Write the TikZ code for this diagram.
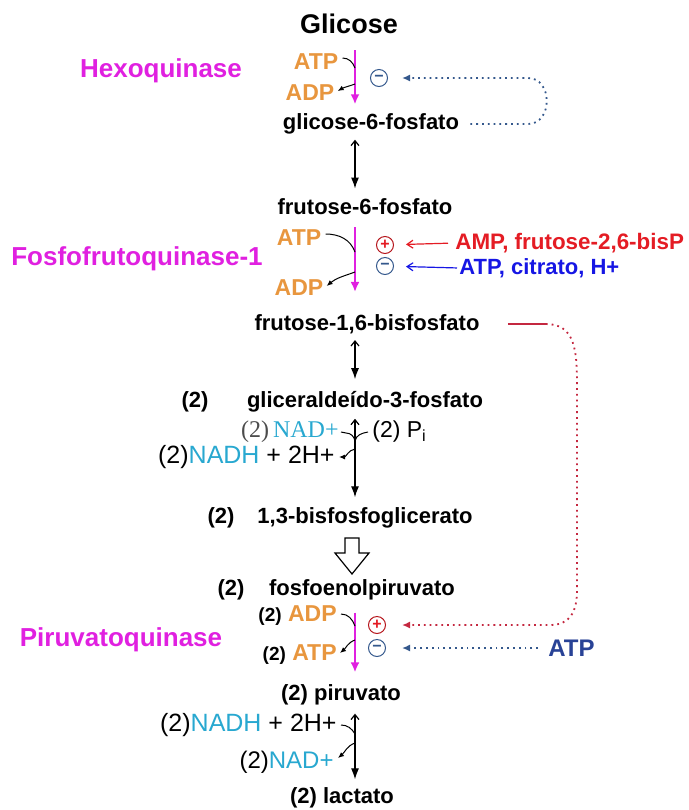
\documentclass[tikz,border=0pt]{standalone}
\usepackage{fontspec}
\setmainfont{Liberation Sans}
\newfontfamily\nadserif{Liberation Serif}
\usetikzlibrary{arrows.meta}
\definecolor{enzmag}{RGB}{224,32,224}
\definecolor{nucor}{RGB}{232,150,62}
\definecolor{actred}{RGB}{228,28,36}
\definecolor{inhblue}{RGB}{22,22,228}
\definecolor{navy}{RGB}{40,66,150}
\definecolor{nadteal}{RGB}{40,168,208}
\definecolor{dotred}{RGB}{196,40,64}
\definecolor{dotblue}{RGB}{52,88,140}
\tikzset{
  met/.style={inner sep=0pt, font=\bfseries\fontsize{11}{12}\selectfont},
  enz/.style={inner sep=0pt, text=enzmag, font=\bfseries\fontsize{13}{15}\selectfont},
  nuc/.style={inner sep=0pt, text=nucor, font=\bfseries\fontsize{11.5}{13}\selectfont},
  cof/.style={inner sep=0pt, font=\fontsize{12.5}{14}\selectfont},
  reg/.style={circle, draw, line width=.5pt, inner sep=0pt, minimum size=8.5pt, font=\bfseries\fontsize{8}{8}\selectfont},
  kin/.style={enzmag, line width=1.4pt, -{Latex[length=5pt,width=4.5pt]}},
  rev/.style={line width=.6pt, {Straight Barb[length=2.5pt,width=4pt]}-{Latex[length=5.5pt,width=4pt]}},
  side/.style={line width=.5pt},
  sidearr/.style={line width=.5pt, -{Latex[length=3pt,width=2.5pt]}},
  dots/.style={dotted, line width=.9pt, -{Latex[length=4pt,width=3.5pt]}},
}
\begin{document}
\begin{tikzpicture}[x=.5pt, y=-.5pt]
\useasboundingbox (0,0) rectangle (689,810);
\coordinate (axis) at (355,0);
% metabolitos
\node[inner sep=0pt, font=\bfseries\fontsize{13.5}{15}\selectfont] (glc) at (349,24) {Glicose};
\node[met] (g6p) at (371,124) {glicose-6-fosfato};
\node[met] (f6p) at (365,207) {frutose-6-fosfato};
\node[met] (f16) at (367,324) {frutose-1,6-bisfosfato};
\node[met] (two1) at (195,402) {(2)};
\node[met] (gap) at (365,402) {gliceralde\'ido-3-fosfato};
\node[met] (two2) at (221,518) {(2)};
\node[met] (bpg) at (365,518) {1,3-bisfosfoglicerato};
\node[met] (two3) at (231,590) {(2)};
\node[met] (pep) at (362,590) {fosfoenolpiruvato};
\node[met] (pyr) at (341,695) {(2) piruvato};
\node[met] (lac) at (342,798) {(2) lactato};
% enzimas
\node[enz] (hk) at (161,71) {Hexoquinase};
\node[enz] (pfk) at (137,259) {Fosfofrutoquinase-1};
\node[enz] (pk) at (121,640) {Piruvatoquinase};
% ATP / ADP
\node[nuc] (atpA) at (316,62) {ATP};
\node[nuc] (adpA) at (310,93) {ADP};
\node[nuc] (atpB) at (299,238) {ATP};
\node[nuc] (adpB) at (299,288) {ADP};
\node[nuc, anchor=east] (adpC) at (337,616) {\textcolor{black}{\fontsize{9.5}{11}\selectfont(2)} ADP};
\node[nuc, anchor=east] (atpC) at (337,655) {\textcolor{black}{\fontsize{9.5}{11}\selectfont(2)} ATP};
% NAD
\node[inner sep=0pt, anchor=east, font=\nadserif\fontsize{12}{13}\selectfont] (nadA) at (339,432) {\textcolor{black!70}{(2)}\,\textcolor{nadteal}{NAD+}};
\node[inner sep=0pt, anchor=west, font=\fontsize{11.5}{13}\selectfont] (pi) at (372,432) {(2) P\textsubscript{i}};
\node[cof, anchor=east] (nadhA) at (335,457) {(2)\textcolor{nadteal}{NADH} + 2H+};
\node[cof, anchor=east] (nadhB) at (337,725) {(2)\textcolor{nadteal}{NADH} + 2H+};
\node[inner sep=0pt, anchor=east, font=\fontsize{12}{13}\selectfont] (nadB) at (334,762) {(2)\textcolor{nadteal}{NAD+}};
% reguladores
\node[reg, draw=dotblue] (inhA) at (379,78) {\textcolor{dotblue}{\textminus}};
\node[reg, draw=actred!80!black] (actB) at (385,245) {\textcolor{actred}{+}};
\node[reg, draw=dotblue] (inhB) at (385,266) {\textcolor{dotblue}{\textminus}};
\node[reg, draw=actred!80!black] (actC) at (377,625) {\textcolor{actred}{+}};
\node[reg, draw=dotblue] (inhC) at (377,648) {\textcolor{dotblue}{\textminus}};
\node[inner sep=0pt, anchor=west, text=actred, font=\bfseries\fontsize{11.2}{13}\selectfont] (amp) at (455,243) {AMP, frutose-2,6-bisP};
\node[inner sep=0pt, anchor=west, text=inhblue, font=\bfseries\fontsize{11}{13}\selectfont] (cit) at (459,268) {ATP, citrato, H+};
\node[inner sep=0pt, anchor=west, text=navy, font=\bfseries\fontsize{12}{13}\selectfont] (atpI) at (548,648) {ATP};
% setas das quinases
\draw[kin] ([yshift=-8pt]glc.south -| axis) -- ([yshift=4.5pt]g6p.north -| axis);
\draw[kin] ([yshift=-6pt]f6p.south -| axis) -- ([yshift=11pt]f16.north -| axis);
\draw[kin] ([yshift=-6pt]pep.south -| axis) -- ([yshift=6pt]pyr.north -| axis);
% passos reversiveis
\draw[rev] ([yshift=-2.5pt]g6p.south -| axis) -- ([yshift=5pt]f6p.north -| axis);
\draw[rev] ([yshift=-3pt]f16.south -| axis) -- ([yshift=6pt]gap.north -| axis);
\draw[rev] ([yshift=-3pt]gap.south -| axis) -- ([yshift=5pt]bpg.north -| axis);
\draw[rev] ([yshift=-4pt]pyr.south -| axis) -- ([yshift=4pt]lac.north -| axis);
\draw[line width=.6pt, fill=white] (345,538) -- (359,538) -- (359,553) -- (369,553) -- (352,574) -- (335,553) -- (345,553) -- cycle;
% cofatores
\coordinate (j1) at (355,68);  \coordinate (j2) at (355,84);
\coordinate (j3) at (355,252); \coordinate (j4) at (355,272);
\coordinate (j5) at (355,626); \coordinate (j6) at (355,640);
\coordinate (j7) at (355,441); \coordinate (j8) at (355,449);
\coordinate (j9) at (355,734); \coordinate (j10) at (355,743);
\draw[side] ([shift={(2pt,2pt)}]atpA.east) to[out=0,in=110] (j1);
\draw[sidearr] (j2) to[out=200,in=30] ([shift={(1.5pt,1pt)}]adpA.east);
\draw[side] ([shift={(2pt,2pt)}]atpB.east) to[out=0,in=110] (j3);
\draw[sidearr] (j4) to[out=200,in=40] ([shift={(1.5pt,1pt)}]adpB.east);
\draw[side] ([shift={(2pt,1pt)}]adpC.east) to[out=0,in=110] (j5);
\draw[sidearr] (j6) to[out=200,in=40] ([shift={(1.5pt,1pt)}]atpC.east);
\draw[side] ([xshift=1pt]nadA.east) -- ++(5,1) to[out=0,in=100] (j7);
\draw[side] ([xshift=-2pt]pi.west) to[out=190,in=80] (j7);
\draw[sidearr] (j8) to[out=190,in=0] ([xshift=2pt]nadhA.east);
\draw[side] ([xshift=2pt]nadhB.east) to[out=0,in=120] (j9);
\draw[sidearr] (j10) to[out=200,in=40] ([shift={(2pt,2pt)}]nadB.east);
% regulacao
\draw[dots, dotblue, shorten >=7pt] ([xshift=5.5pt]g6p.east) -- (528,124) .. controls (553,124) and (553,78) .. (528,78) -- (inhA);
\draw[line width=.6pt, actred, -{Straight Barb[length=3pt,width=4pt]}, shorten <=3.5pt, shorten >=6pt] (amp.west) -- (actB);
\draw[line width=.6pt, inhblue, -{Straight Barb[length=3pt,width=4pt]}, shorten <=1pt, shorten >=6pt] (cit.west) -- (inhB);
\draw[line width=.7pt, dotred] ([xshift=14pt]f16.east) -- ++(38,0) coordinate (r1);
\draw[dots, dotred, shorten >=8pt] (r1) .. controls (575,324) and (577,350) .. (577,385) -- (577,590) .. controls (577,612) and (570,625) .. (550,625) -- (actC);
\draw[dots, dotblue, shorten <=5pt, shorten >=8pt] (atpI.west) -- (inhC);
\end{tikzpicture}
\end{document}
